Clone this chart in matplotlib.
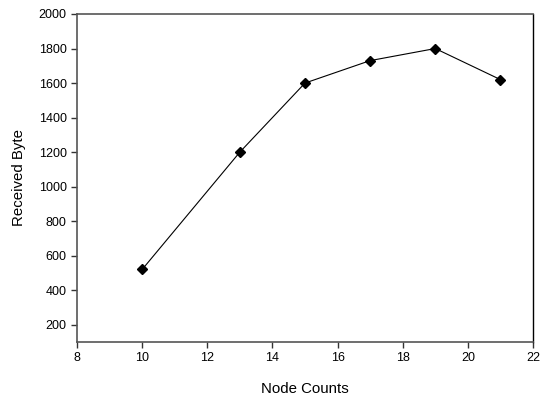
import matplotlib
matplotlib.use("Agg")
import matplotlib.pyplot as plt

node_counts = [10, 13, 15, 17, 19, 21]
received_byte = [520, 1200, 1600, 1730, 1800, 1620]
x_ticks = [8, 10, 12, 14, 16, 18, 20, 22]
y_ticks = [200, 400, 600, 800, 1000, 1200, 1400, 1600, 1800, 2000]

plt.rcParams['font.family'] = ['Liberation Sans', 'DejaVu Sans']

fig = plt.figure(figsize=(5.45, 3.97), dpi=100)
ax = fig.add_axes([77/545, 1-342/397, (533-77)/545, (342-14)/397])

ax.plot(node_counts, received_byte, color='black', linewidth=0.8,
        marker='D', markersize=5.5, markerfacecolor='black', markeredgecolor='black')

ax.set_xlim(8, 22)
ax.set_ylim(100, 2000)
ax.set_xticks(x_ticks)
ax.set_yticks(y_ticks)
ax.tick_params(direction='out', length=4, width=1, labelsize=9, colors='#333333', labelcolor='black')
for s in ['left', 'bottom', 'top']:
    ax.spines[s].set_color('#555555')
    ax.spines[s].set_linewidth(1.2)
ax.spines['right'].set_color('black')
ax.spines['right'].set_linewidth(1.0)

ax.set_xlabel('Node Counts', fontsize=10.8, labelpad=13)
ax.set_ylabel('Received Byte', fontsize=10.8, labelpad=9)

fig.savefig('out.png', dpi=100)
